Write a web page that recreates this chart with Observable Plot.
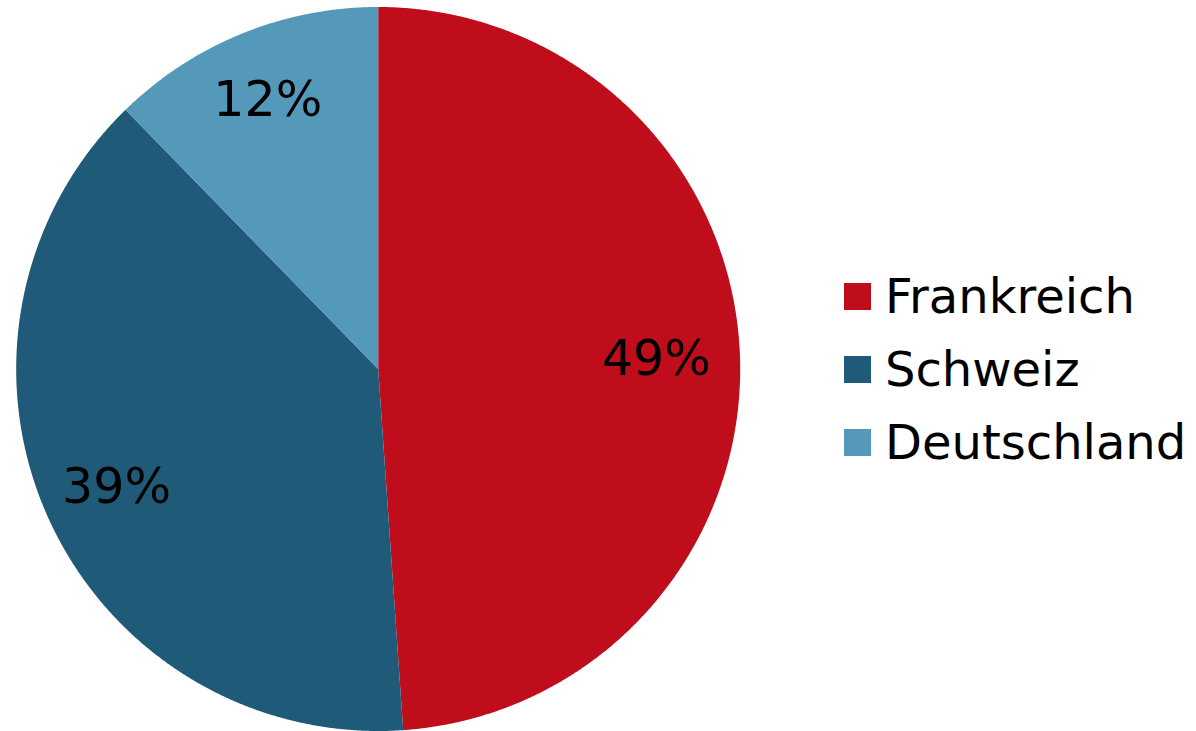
<!DOCTYPE html>
<html>
<head>
<meta charset="utf-8">
<script src="https://cdn.jsdelivr.net/npm/d3@7"></script>
<script src="https://cdn.jsdelivr.net/npm/@observablehq/plot@0.6"></script>
<style>
  html, body { margin: 0; padding: 0; background: #fff; }
  #wrap { position: relative; width: 1196px; height: 731px; font-family: "DejaVu Sans", Verdana, sans-serif; }
  #legend { position: absolute; left: 844px; top: 259px; }
  .row { display: flex; align-items: center; height: 73px; font-size: 48px; color: #000; }
  .sw { width: 27px; height: 27px; margin-right: 14px; margin-top: 2px; }
</style>
</head>
<body>
<div id="wrap"><div id="chart"></div><div id="legend"></div></div>
<script>
// Data
const countries = ["Frankreich", "Schweiz", "Deutschland"];
const shares = [48.9, 38.8, 12.3];          // percent
const colors = ["#C00D1C", "#1F5A78", "#5499BA"];

// Build slice polygons with d3.pie (start at 12 o'clock, clockwise)
const pie = d3.pie().sort(null).value(d => d)(shares);
const polyRows = [];
const labelRows = [];
pie.forEach((p, i) => {
  const c = countries[i];
  polyRows.push({country: c, x: 0, y: 0});
  const n = Math.max(2, Math.ceil((p.endAngle - p.startAngle) / (Math.PI / 720)));
  for (let k = 0; k <= n; k++) {
    const a = p.startAngle + (p.endAngle - p.startAngle) * k / n;
    polyRows.push({country: c, x: Math.sin(a), y: Math.cos(a)});
  }
  polyRows.push({country: c, x: 0, y: 0});
  const m = (p.startAngle + p.endAngle) / 2;
  labelRows.push({country: c, label: Math.round(shares[i]) + "%", x: 0.78 * Math.sin(m), y: 0.8 * Math.cos(m)});
});

const cx = 377.7, cy = 368.5, r = 362;
const chart = Plot.plot({
  width: 1196,
  height: 731,
  margin: 0,
  style: {background: "transparent", fontFamily: "DejaVu Sans, Verdana, sans-serif"},
  x: {domain: [-1, 1], range: [cx - r, cx + r], axis: null},
  y: {domain: [-1, 1], range: [cy + r, cy - r], axis: null},
  color: {domain: countries, range: colors},
  marks: [
    Plot.line(polyRows, {x: "x", y: "y", z: "country", fill: "country", stroke: "none", curve: "linear-closed"}),
    Plot.text(labelRows, {x: "x", y: "y", text: "label", fill: "#000", fontSize: 49, textAnchor: "middle", dx: -4})
  ]
});
document.getElementById("chart").appendChild(chart);

// Legend
const leg = document.getElementById("legend");
countries.forEach((c, i) => {
  const row = document.createElement("div");
  row.className = "row";
  const sw = document.createElement("div");
  sw.className = "sw";
  sw.style.background = colors[i];
  const t = document.createElement("span");
  t.textContent = c;
  row.appendChild(sw);
  row.appendChild(t);
  leg.appendChild(row);
});
</script>
</body>
</html>
